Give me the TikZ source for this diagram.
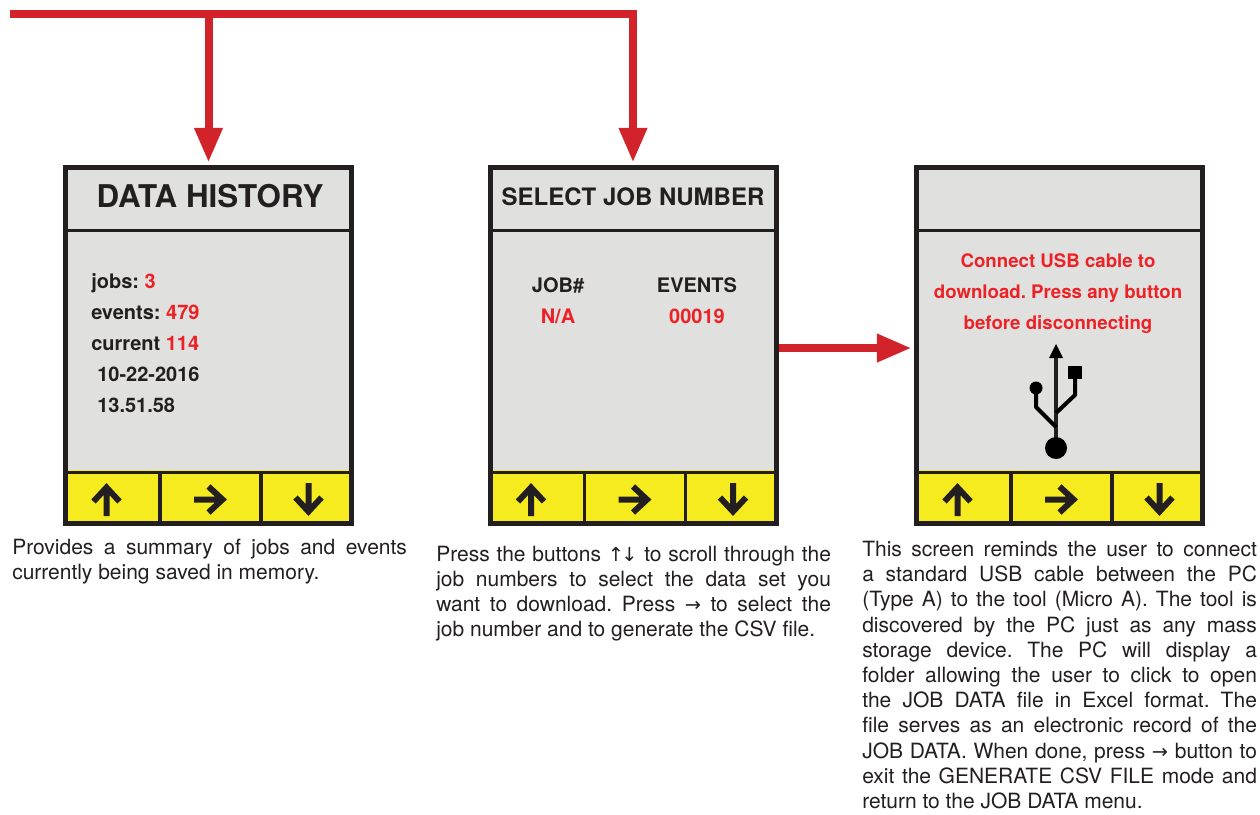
\documentclass[tikz,border=0pt]{standalone}
\usepackage{fontspec}
\setmainfont{TeX Gyre Heros}
\newfontfamily\symfont[Scale=0.92]{DejaVu Sans}
\usetikzlibrary{arrows.meta,calc}
\frenchspacing

\definecolor{wire}{HTML}{D2232A}
\definecolor{alert}{HTML}{EC2227}
\definecolor{frame}{HTML}{231F20}
\definecolor{lcd}{HTML}{E0E0DF}
\definecolor{keypad}{HTML}{F5EB1F}

\tikzset{
  screen/.style={draw=frame, line width=3.75pt, fill=lcd, inner sep=0pt,
    minimum width=214.5pt, minimum height=267pt,
    path picture={\fill[keypad] ($(path picture bounding box.south west)+(0,-53.5)$)
      rectangle (path picture bounding box.south east);}},
  divider/.style={draw=frame, line width=2.8pt},
  keyline/.style={draw=frame, line width=4.5pt, line join=miter},
  keyarrow/.pic={\draw[keyline] (0,16.5) -- (0,-12) (-13,2) -- (0,-12) -- (13,2);},
  flow/.style={draw=wire, line width=6pt, line join=miter, shorten >=1.9pt,
    -{Triangle[length=26pt,width=20pt]}},
  title/.style={anchor=base, inner sep=0pt, text=frame, font=\bfseries\fontsize{23.5}{28}\selectfont},
  head/.style={anchor=base, inner sep=0pt, text=frame, font=\bfseries\fontsize{18}{22}\selectfont},
  readout/.style={anchor=base west, inner sep=0pt, text=frame, font=\bfseries\fontsize{15}{18}\selectfont},
  column/.style={anchor=base, inner sep=0pt, text=frame, font=\bfseries\fontsize{15}{18}\selectfont},
  prompt/.style={anchor=base, inner sep=0pt, text=alert, font=\bfseries\fontsize{14}{17}\selectfont},
  note/.style={anchor=north west, inner sep=0pt, text width=296pt, align=justify, text=frame,
    font=\fontsize{15.75}{18.9}\selectfont}
}

\begin{document}
\begin{tikzpicture}[x=0.75pt, y=-0.75pt]
    \useasboundingbox (0,0) rectangle (1260,814);

    % the three screens
    \node[screen] (hist) at (208.5,345.5) {};
    \node[screen] (job) at (633,345.5) {};
    \node[screen] (usb) at (1059.5,345.5) {};

    \foreach \s in {hist,job,usb}{
        \draw[divider] ($(\s.north west)+(0,65.5)$) -- ($(\s.north east)+(0,65.5)$);
        \draw[divider] ($(\s.south west)+(0,-53.5)$) -- ($(\s.south east)+(0,-53.5)$);
        \draw[divider] ($(\s.south west)+(97,0)$) -- ($(\s.south west)+(97,-53.5)$);
        \draw[divider] ($(\s.south west)+(198,0)$) -- ($(\s.south west)+(198,-53.5)$);
        \pic at ($(\s.south west)+(43.5,-26.5)$) {keyarrow};
        \pic[rotate=-90] at ($(\s.south west)+(147.5,-26.5)$) {keyarrow};
        \pic[rotate=180] at ($(\s.south west)+(245.5,-26.5)$) {keyarrow};
    }

    % red flow lines
    \coordinate (feed) at (10,14);
    \draw[flow] (feed) -| (job.north);
    \draw[flow] (feed -| hist.north) -- (hist.north);
    \draw[flow] ([yshift=-1.9pt]job.east) -- ([yshift=-1.9pt]usb.west);

    % screen texts
    \node[title] (histtitle) at (210,207) {DATA HISTORY};
    \node[readout] (jobs) at (91,288) {jobs: \textcolor{alert}{3}};
    \node[readout] (events) at (91,319) {events: \textcolor{alert}{479}};
    \node[readout] (current) at (91,350) {current \textcolor{alert}{114}};
    \node[readout] (date) at (97,381) {10-22-2016};
    \node[readout] (time) at (97,412) {13.51.58};

    \node[head] (jobtitle) at (633,205) {SELECT JOB NUMBER};
    \node[column] (jobcol) at (558,292) {JOB\#};
    \node[column] (eventcol) at (697,292) {EVENTS};
    \node[column, text=alert] (jobval) at (558,323) {N/A};
    \node[column, text=alert] (eventval) at (697,323) {00019};

    \node[prompt] (msga) at (1058,267) {Connect USB cable to};
    \node[prompt] (msgb) at (1058,298) {download. Press any button};
    \node[prompt] (msgc) at (1058,329) {before disconnecting};

    % usb symbol
    \draw[frame, line width=3pt] (1056,440) -- (1056,356);
    \fill[black] (1049,358) -- (1056,344) -- (1063,358) -- cycle;
    \fill[black] (1056,448) circle[radius=11];
    \draw[black, line width=3pt, line join=round] (1036,388) -- (1036,407) -- (1056,427);
    \fill[black] (1036,388) circle[radius=6.5];
    \draw[black, line width=3pt, line join=round] (1075,379) -- (1075,395) -- (1056,413);
    \fill[black] (1068,366) rectangle (1082,379);

    % captions
    \node[note] (notehist) at (12,539) {Provides a summary of jobs and events\linebreak
        currently being saved in memory.};
    \node[note] (notejob) at (436,545.5) {Press the buttons {\symfont ↑\kern-2pt↓} to scroll through the\linebreak
        job numbers to select the data set you\linebreak
        want to download. Press {\symfont →} to select the\linebreak
        job number and to generate the CSV file.};
    \node[note] (noteusb) at (862,541) {This screen reminds the user to connect\linebreak
        a standard USB cable between the PC\linebreak
        (Type A) to the tool (Micro A). The tool is\linebreak
        discovered by the PC just as any mass\linebreak
        storage device. The PC will display a\linebreak
        folder allowing the user to click to open\linebreak
        the JOB DATA file in Excel format. The\linebreak
        file serves as an electronic record of the\linebreak
        JOB DATA. When done, press {\symfont →} button to\linebreak
        exit the GENERATE CSV FILE mode and\linebreak
        return to the JOB DATA menu.};
\end{tikzpicture}
\end{document}
